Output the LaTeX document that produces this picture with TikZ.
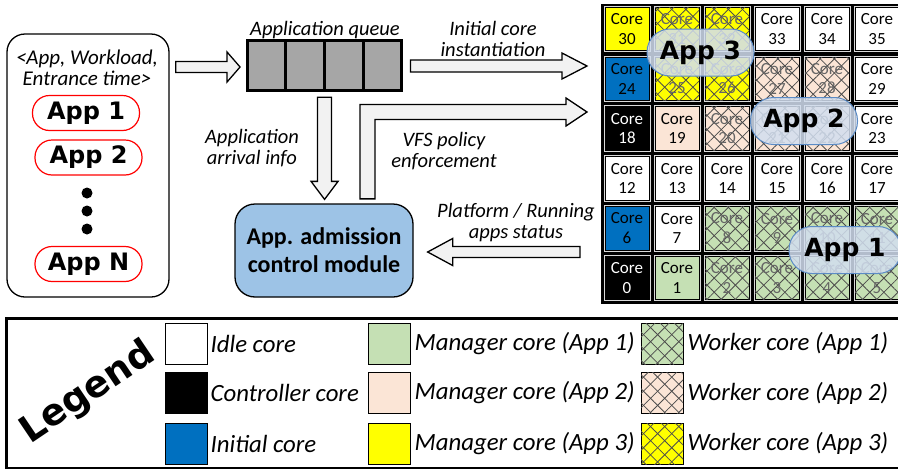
\documentclass[tikz,border=0pt]{standalone}
\usepackage{fontspec}
\setmainfont{Carlito}
\newfontfamily\comicfont{DejaVu Sans}
\usepackage{tikz}
\usetikzlibrary{positioning,calc,fit,patterns.meta}
\definecolor{initblue}{HTML}{0070C0}
\definecolor{mgrgreen}{HTML}{C5E0B4}
\definecolor{mgrpeach}{HTML}{FBE5D6}
\definecolor{mgryellow}{HTML}{FFFF00}
\definecolor{queuegray}{HTML}{A6A6A6}
\definecolor{admitblue}{HTML}{9DC3E6}
\definecolor{bubblefill}{HTML}{D2DEEF}
\definecolor{bubbleedge}{HTML}{5B8BC5}
\definecolor{arrowfill}{HTML}{F2F2F2}
\definecolor{ringgray}{HTML}{D9D9D9}

\tikzset{
  core/.style={rectangle, minimum width=44, minimum height=43.5, inner sep=0, draw=black, line width=0.8,
    preaction={draw=ringgray, line width=3}, align=center, font=\fontsize{17}{19.5}\selectfont},
  swatch/.style={rectangle, minimum width=42, minimum height=41, inner sep=0, draw=black, line width=0.8},
  hatch/.style={postaction={pattern={Lines[angle=45,distance=10pt,line width=0.8pt]}, pattern color=black!70},
    postaction={pattern={Lines[angle=-45,distance=10pt,line width=0.8pt]}, pattern color=black!70}},
  idlecore/.style={fill=white},
  ctrlcore/.style={fill=black, text=white},
  initcore/.style={fill=initblue},
  mgrcoreA/.style={fill=mgrgreen},
  mgrcoreB/.style={fill=mgrpeach},
  mgrcoreC/.style={fill=mgryellow},
  wkrcoreA/.style={fill=mgrgreen, hatch, text=black!60},
  wkrcoreB/.style={fill=mgrpeach, hatch, text=black!60},
  wkrcoreC/.style={fill=mgryellow, hatch, text=black!60},
  bubble/.style={rectangle, rounded corners=23, minimum width=107, minimum height=47, draw=bubbleedge, line width=1,
    fill=bubblefill, fill opacity=0.85, text opacity=1, font=\comicfont\bfseries\fontsize{25}{25}\selectfont},
  pill/.style={rectangle, rounded corners=17, draw=red, line width=1.2, minimum width=107, minimum height=35,
    font=\comicfont\bfseries\fontsize{24}{24}\selectfont},
  qcell/.style={rectangle, draw=black, line width=3, fill=queuegray, minimum width=38.5, minimum height=50, inner sep=0},
  hollow/.style={draw=black, line width=1.3, fill=arrowfill, line join=miter},
  lbl/.style={align=center, inner sep=0, font=\itshape\fontsize{20.5}{21}\selectfont},
  legtext/.style={inner sep=0, font=\itshape\fontsize{24.8}{26}\selectfont},
}

\begin{document}
\begin{tikzpicture}[x=1pt, y=-1pt]
\useasboundingbox (0,0) rectangle (898,469);
\clip (0,0) rectangle (898,469);

\node[draw, line width=1.3, rounded corners=18, minimum width=162, minimum height=263] (appsrc) at (88,165.5) {};
\node[lbl, font=\itshape\fontsize{21}{21}\selectfont] (tuple) at (87,67.5) {<App, Workload,\\Entrance time>};
\node[pill] (app1) at (86,113) {App 1};
\node[pill] (app2) at (88.5,157.5) {App 2};
\node[pill] (appN) at (88.5,264) {App N};
\foreach \i/\y in {1/193,2/211,3/229}
  \node[circle, fill=black, minimum size=11, inner sep=0] (dot\i) at (87,\y) {};

\foreach \i in {1,...,4}
  \node[qcell] (q\i) at ({266.5+38.7*(\i-1)}, 65.5) {};
\node[fit=(q1)(q4), inner sep=0] (queue) {};
\node[lbl] (lblqueue) at (325,30) {Application queue};

\node[draw, line width=1.3, rounded corners=20, fill=admitblue, minimum width=178, minimum height=93, align=center,
  font=\bfseries\fontsize{24}{28}\selectfont] (admit) at (324,250.5) {App. admission\\control module};

\node[fill=black, minimum width=302, minimum height=300, inner sep=0, anchor=north west] (grid) at (601,3.5) {};
\foreach \n/\kind in {0/ctrlcore, 1/mgrcoreA, 2/wkrcoreA, 3/wkrcoreA, 4/wkrcoreA, 5/wkrcoreA,
    6/initcore, 7/idlecore, 8/wkrcoreA, 9/wkrcoreA, 10/wkrcoreA, 11/wkrcoreA,
    12/idlecore, 13/idlecore, 14/idlecore, 15/idlecore, 16/idlecore, 17/idlecore,
    18/ctrlcore, 19/mgrcoreB, 20/wkrcoreB, 21/wkrcoreB, 22/wkrcoreB, 23/idlecore,
    24/initcore, 25/wkrcoreC, 26/wkrcoreC, 27/wkrcoreB, 28/wkrcoreB, 29/idlecore,
    30/mgrcoreC, 31/wkrcoreC, 32/wkrcoreC, 33/idlecore, 34/idlecore, 35/idlecore}
  \node[core, \kind] (c\n) at ({627+50*mod(\n,6)}, {303-24.9-49.83*int(\n/6)}) {Core\\\n};

\node[bubble] (bubC) at (700.5,52.5) {App 3};
\node[bubble] (bubB) at (804,121) {App 2};
\node[bubble, minimum width=112] (bubA) at (845,250) {App 1};

% block arrows
\coordinate (a1t) at ($(appsrc.east |- queue.west)+(6,1.5)$);
\coordinate (a1p) at ($(queue.west)+(-5.5,1.5)$);
\draw[hollow] ($(a1t)+(0,-5.5)$) -- ($(a1p)+(-13,-5.5)$) -- ($(a1p)+(-13,-15)$) -- (a1p)
  -- ($(a1p)+(-13,15)$) -- ($(a1p)+(-13,5.5)$) -- ($(a1t)+(0,5.5)$) -- cycle;

\coordinate (a2t) at ($(queue.east)+(7,0.5)$);
\coordinate (a2p) at ($(grid.west |- queue.east)+(-14,0.5)$);
\draw[hollow] ($(a2t)+(0,-6)$) -- ($(a2p)+(-25,-6)$) -- ($(a2p)+(-25,-13)$) -- (a2p)
  -- ($(a2p)+(-25,13)$) -- ($(a2p)+(-25,6)$) -- ($(a2t)+(0,6)$) -- cycle;
\node[lbl] (lblinit) at (493,39) {Initial core\\instantiation};

\coordinate (a3t) at ($(queue.south)+(0,5)$);
\coordinate (a3p) at ($(queue.south |- admit.north)+(0,-4)$);
\draw[hollow] ($(a3t)+(-7,0)$) -- ($(a3p)+(-7,-18)$) -- ($(a3p)+(-13.5,-18)$) -- (a3p)
  -- ($(a3p)+(13.5,-18)$) -- ($(a3p)+(7,-18)$) -- ($(a3t)+(7,0)$) -- cycle;
\node[lbl] (lblarrival) at (252,148) {Application\\arrival info};

\coordinate (vfsb) at ($(admit.north)+(43.5,-4.5)$);
\coordinate (vfs) at ($(grid.north west)+(-14,108.5)$);
\draw[hollow] ($(vfsb)+(-7.5,0)$) -- ($(vfsb |- vfs)+(-7.5,-7.5)$) -- ($(vfs)+(-21,-7.5)$) -- ($(vfs)+(-21,-14)$)
  -- (vfs) -- ($(vfs)+(-21,14)$) -- ($(vfs)+(-21,7.5)$) -- ($(vfsb |- vfs)+(7.5,7.5)$) -- ($(vfsb)+(7.5,0)$) -- cycle;
\node[lbl] (lblvfs) at (444,151) {VFS policy\\enforcement};

\coordinate (a4t) at ($(grid.west |- admit.east)+(-21,1.5)$);
\coordinate (a4p) at ($(admit.east)+(14,1.5)$);
\draw[hollow] ($(a4t)+(0,-5.5)$) -- ($(a4p)+(25,-5.5)$) -- ($(a4p)+(25,-13.5)$) -- (a4p)
  -- ($(a4p)+(25,13.5)$) -- ($(a4p)+(25,5.5)$) -- ($(a4t)+(0,5.5)$) -- cycle;
\node[lbl] (lblstatus) at (516,223) {Platform / Running\\apps status};

% legend
\node[draw, line width=3, minimum width=910, minimum height=150, inner sep=0, anchor=north west] (legend) at (5,317) {};
\node[rotate=34, font=\comicfont\bfseries\fontsize{37}{37}\selectfont] (legtitle) at (88,393) {Legend};
\node[swatch, idlecore] (swIdle) at (186,343.5) {};
\node[swatch, ctrlcore] (swCtrl) at (186,393) {};
\node[swatch, initcore] (swInit) at (186,443.5) {};
\node[swatch, mgrcoreA] (swMgrA) at (389,343.5) {};
\node[swatch, mgrcoreB] (swMgrB) at (389,393) {};
\node[swatch, mgrcoreC] (swMgrC) at (389,443.5) {};
\node[swatch, wkrcoreA] (swWkrA) at (662,343.5) {};
\node[swatch, wkrcoreB] (swWkrB) at (662,393) {};
\node[swatch, wkrcoreC] (swWkrC) at (662,443.5) {};
\node[legtext, right=3pt of swIdle] (txIdle) {Idle core};
\node[legtext, right=3pt of swCtrl] (txCtrl) {Controller core};
\node[legtext, right=3pt of swInit] (txInit) {Initial core};
\node[legtext, right=4pt of swMgrA] (txMgrA) {Manager core (App 1)};
\node[legtext, right=4pt of swMgrB] (txMgrB) {Manager core (App 2)};
\node[legtext, right=4pt of swMgrC] (txMgrC) {Manager core (App 3)};
\node[legtext, right=4pt of swWkrA] (txWkrA) {Worker core (App 1)};
\node[legtext, right=4pt of swWkrB] (txWkrB) {Worker core (App 2)};
\node[legtext, right=4pt of swWkrC] (txWkrC) {Worker core (App 3)};
\end{tikzpicture}
\end{document}
